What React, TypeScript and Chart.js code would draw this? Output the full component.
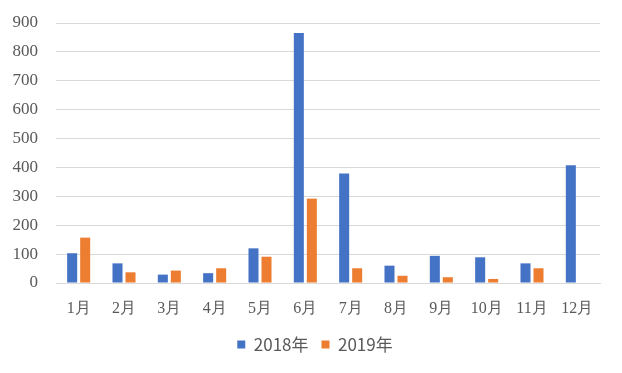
import React, { useEffect, useRef } from "react";
import { Chart, registerables } from "chart.js";

Chart.register(...registerables);

const categories = ["1月", "2月", "3月", "4月", "5月", "6月", "7月", "8月", "9月", "10月", "11月", "12月"];
const series2018 = [103, 68, 29, 34, 120, 865, 379, 60, 94, 89, 68, 408];
const series2019 = [157, 37, 43, 51, 91, 292, 51, 25, 20, 14, 51, null];
const seriesNames = ["2018年", "2019年"];
const colors = ["#4472C4", "#ED7D31"];

const legendShift = {
  id: "legendShift",
  afterLayout(chart: any) {
    const l = chart.legend;
    if (l) { l.left += 15; l.right += 15; }
  },
};

export default function App() {
  const ref = useRef<HTMLCanvasElement | null>(null);
  useEffect(() => {
    if (!ref.current) return;
    const chart = new Chart(ref.current, {
      type: "bar",
      data: {
        labels: categories,
        datasets: [
          { label: seriesNames[0], data: series2018, backgroundColor: colors[0], borderWidth: 0 },
          { label: seriesNames[1], data: series2019 as any, backgroundColor: colors[1], borderWidth: 0 },
        ],
      },
      plugins: [legendShift],
      options: {
        animation: false,
        responsive: false,
        maintainAspectRatio: false,
        datasets: { bar: { categoryPercentage: 0.574, barPercentage: 0.77 } },
        layout: { padding: { top: 23, right: 22, bottom: 10, left: 0 } },
        plugins: {
          tooltip: { enabled: false },
          legend: {
            position: "bottom",
            labels: {
              boxWidth: 8,
              boxHeight: 8,
              padding: 13,
              color: "#595959",
              font: { family: "'Noto Sans CJK SC', 'Noto Sans', sans-serif", size: 17 },
            },
          },
        },
        scales: {
          x: {
            grid: { display: false, drawTicks: false },
            border: { display: true, color: "#d9d9d9", width: 1 },
            ticks: {
              padding: 16,
              color: "#595959",
              font: { family: "'Liberation Serif', 'Times New Roman', serif", size: 16 },
              maxRotation: 0,
            },
            afterFit: (s: any) => { s.height = 40; },
          },
          y: {
            min: 0,
            max: 900,
            ticks: {
              stepSize: 100,
              padding: 18,
              color: "#595959",
              font: { family: "'Liberation Serif', 'Times New Roman', serif", size: 17 },
            },
            grid: { color: "#d9d9d9", lineWidth: 1, drawTicks: false },
            border: { display: false },
            afterFit: (s: any) => { s.width = 56; s.paddingTop = 0; s.paddingBottom = 0; },
          },
        },
      },
    });
    return () => chart.destroy();
  }, []);
  return (
    <div style={{ position: "absolute", left: 0, top: 0, width: 622, height: 373, background: "#fff" }}>
      <canvas ref={ref} width={622} height={373} />
    </div>
  );
}
